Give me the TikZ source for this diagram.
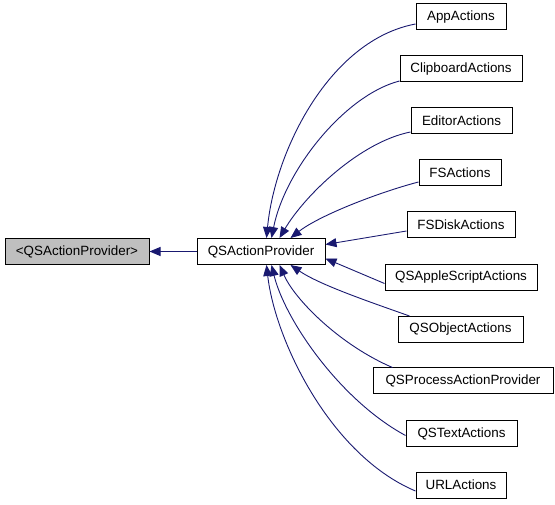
\documentclass[tikz,border=0pt]{standalone}
\usepackage{fontspec}
\setmainfont{Liberation Sans}
\usetikzlibrary{arrows.meta}
\definecolor{navy}{HTML}{191970}
\definecolor{boxgray}{HTML}{BFBFBF}
\begin{document}
\begin{tikzpicture}[x=1pt,y=-1pt,
  cls/.style={draw=black,line width=1pt,fill=white,minimum height=26pt,inner xsep=1pt,inner ysep=0pt,font=\fontsize{13.4}{15}\selectfont},
  edge/.style={draw=navy,line width=0.9pt,-{Triangle[length=11pt,width=9pt]}}]
\useasboundingbox (0,0) rectangle (555,505);
\node[cls,fill=boxgray,minimum width=144pt] (base) at (77,251.5) {<QSActionProvider>};
\node[cls,minimum width=128pt] (p) at (261,251.5) {QSActionProvider};
\node[cls,minimum width=90pt] (app) at (461,17) {AppActions};
\node[cls,minimum width=122pt] (clip) at (461,69) {ClipboardActions};
\node[cls,minimum width=101pt] (ed) at (461.5,121) {EditorActions};
\node[cls,minimum width=82pt] (fs) at (460,173) {FSActions};
\node[cls,minimum width=108pt] (fsd) at (461,225) {FSDiskActions};
\node[cls,minimum width=152pt] (as) at (461,277.5) {QSAppleScriptActions};
\node[cls,minimum width=125pt] (obj) at (460.5,329.5) {QSObjectActions};
\node[cls,minimum width=180pt] (proc) at (463,381) {QSProcessActionProvider};
\node[cls,minimum width=111pt] (txt) at (461.5,433.5) {QSTextActions};
\node[cls,minimum width=90pt] (url) at (461,485) {URLActions};
\draw[edge] (p.west) -- (base.east);
\draw[edge] ([yshift=-7pt]app.west) .. controls (330,40) and (275,150) .. ([xshift=70pt]p.north west);
\draw[edge] ([yshift=-12pt]clip.west) .. controls (345,95) and (285,170) .. ([xshift=75pt]p.north west);
\draw[edge] ([yshift=-11pt]ed.west) .. controls (360,142) and (305,195) .. ([xshift=83pt]p.north west);
\draw[edge] ([yshift=-9pt]fs.west) .. controls (380,192) and (320,215) .. ([xshift=94pt]p.north west);
\draw[edge] ([yshift=-6pt]fsd.west) -- ([yshift=7pt]p.east);
\draw[edge] ([yshift=-6pt]as.west) -- ([yshift=-7pt]p.east);
\draw[edge] ([xshift=12pt]obj.north west) .. controls (370,302) and (320,285) .. ([xshift=94pt]p.south west);
\draw[edge] ([xshift=20pt]proc.north west) .. controls (340,345) and (295,300) .. ([xshift=83pt]p.south west);
\draw[edge] ([yshift=-2pt]txt.west) .. controls (340,400) and (285,320) .. ([xshift=75pt]p.south west);
\draw[edge] ([yshift=-6pt]url.west) .. controls (330,455) and (275,340) .. ([xshift=70pt]p.south west);
\end{tikzpicture}
\end{document}
